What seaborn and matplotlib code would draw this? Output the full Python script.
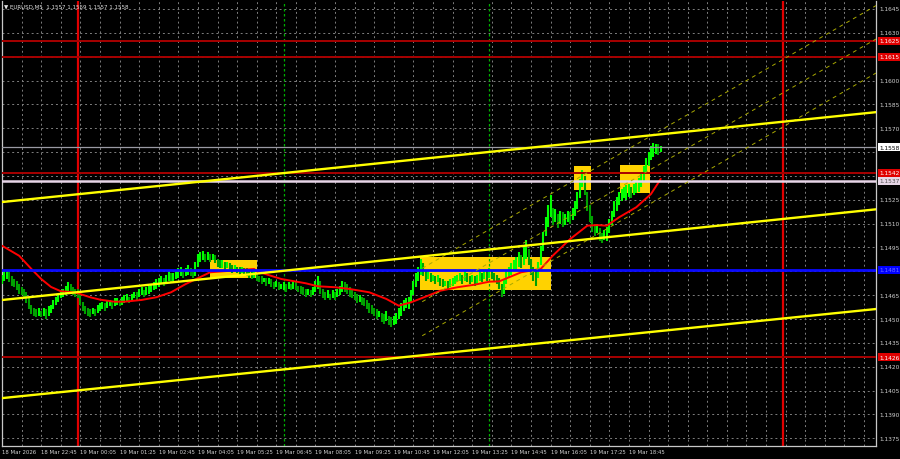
import matplotlib
matplotlib.use("Agg")
import matplotlib.pyplot as plt
import matplotlib.transforms as mtransforms
from matplotlib.patches import Rectangle
import numpy as np
import seaborn as sns

sns.set_theme(style="dark")
plt.rcParams["font.family"] = ["DejaVu Sans"]

# Barras M5 - indice 0 = 19 Mar 00:00, uma barra a cada 5 minutos
primeiro_idx = -31
barra_max = [
    1.1478, 1.1480, 1.1480, 1.1481, 1.1477, 1.1475, 1.1474, 1.1472, 1.1470, 1.1469,
    1.1467, 1.1463, 1.1459, 1.1457, 1.1456, 1.1457, 1.1455, 1.1457, 1.1456, 1.1458,
    1.1459, 1.1462, 1.1464, 1.1466, 1.1468, 1.1469, 1.1471, 1.1473, 1.1472, 1.1470,
    1.1469, 1.1469, 1.1466, 1.1461, 1.1458, 1.1457, 1.1456, 1.1457, 1.1456, 1.1459,
    1.1460, 1.1461, 1.1460, 1.1462, 1.1462, 1.1461, 1.1463, 1.1463, 1.1462, 1.1464,
    1.1465, 1.1466, 1.1464, 1.1466, 1.1467, 1.1467, 1.1469, 1.1470, 1.1468, 1.1470,
    1.1471, 1.1472, 1.1473, 1.1475, 1.1476, 1.1477, 1.1476, 1.1478, 1.1480, 1.1479,
    1.1479, 1.1480, 1.1482, 1.1483, 1.1481, 1.1482, 1.1484, 1.1482, 1.1481, 1.1486,
    1.1491, 1.1492, 1.1493, 1.1491, 1.1492, 1.1491, 1.1491, 1.1490, 1.1488, 1.1487,
    1.1487, 1.1486, 1.1486, 1.1485, 1.1484, 1.1484, 1.1483, 1.1483, 1.1483, 1.1482,
    1.1482, 1.1481, 1.1480, 1.1480, 1.1479, 1.1477, 1.1477, 1.1476, 1.1476, 1.1476,
    1.1475, 1.1473, 1.1474, 1.1473, 1.1472, 1.1473, 1.1472, 1.1473, 1.1472, 1.1474,
    1.1473, 1.1471, 1.1471, 1.1470, 1.1469, 1.1469, 1.1468, 1.1470, 1.1474, 1.1477,
    1.1474, 1.1469, 1.1467, 1.1468, 1.1466, 1.1468, 1.1467, 1.1469, 1.1471, 1.1474,
    1.1473, 1.1472, 1.1470, 1.1468, 1.1467, 1.1466, 1.1465, 1.1464, 1.1463, 1.1462,
    1.1460, 1.1459, 1.1457, 1.1456, 1.1455, 1.1454, 1.1453, 1.1455, 1.1452, 1.1451,
    1.1452, 1.1454, 1.1457, 1.1460, 1.1462, 1.1463, 1.1464, 1.1468, 1.1474, 1.1479,
    1.1483, 1.1488, 1.1485, 1.1481, 1.1480, 1.1479, 1.1478, 1.1477, 1.1478, 1.1476,
    1.1475, 1.1474, 1.1474, 1.1475, 1.1476, 1.1477, 1.1478, 1.1479, 1.1478, 1.1480,
    1.1479, 1.1477, 1.1478, 1.1477, 1.1478, 1.1480, 1.1479, 1.1481, 1.1480, 1.1482,
    1.1481, 1.1479, 1.1478, 1.1476, 1.1472, 1.1475, 1.1480, 1.1483, 1.1485, 1.1487,
    1.1489, 1.1492, 1.1490, 1.1496, 1.1500, 1.1494, 1.1488, 1.1483, 1.1480, 1.1486,
    1.1496, 1.1505, 1.1514, 1.1522, 1.1528, 1.1520, 1.1519, 1.1516, 1.1518, 1.1517,
    1.1516, 1.1518, 1.1517, 1.1520, 1.1524, 1.1530, 1.1538, 1.1544, 1.1540, 1.1530,
    1.1522, 1.1515, 1.1510, 1.1510, 1.1507, 1.1504, 1.1506, 1.1508, 1.1513, 1.1518,
    1.1524, 1.1527, 1.1530, 1.1532, 1.1533, 1.1534, 1.1535, 1.1533, 1.1535, 1.1537,
    1.1539, 1.1542, 1.1546, 1.1551, 1.1555, 1.1559, 1.1561, 1.1560, 1.1560, 1.1559,
]
barra_min = [
    1.1472, 1.1474, 1.1475, 1.1473, 1.1471, 1.1470, 1.1468, 1.1466, 1.1465, 1.1463,
    1.1460, 1.1456, 1.1453, 1.1452, 1.1451, 1.1452, 1.1451, 1.1452, 1.1450, 1.1452,
    1.1454, 1.1456, 1.1459, 1.1461, 1.1463, 1.1464, 1.1465, 1.1467, 1.1466, 1.1465,
    1.1464, 1.1463, 1.1459, 1.1455, 1.1453, 1.1452, 1.1451, 1.1453, 1.1452, 1.1454,
    1.1455, 1.1456, 1.1455, 1.1457, 1.1458, 1.1456, 1.1458, 1.1459, 1.1458, 1.1459,
    1.1460, 1.1461, 1.1460, 1.1462, 1.1463, 1.1462, 1.1464, 1.1465, 1.1464, 1.1465,
    1.1466, 1.1467, 1.1468, 1.1469, 1.1470, 1.1472, 1.1471, 1.1473, 1.1474, 1.1473,
    1.1474, 1.1475, 1.1476, 1.1477, 1.1476, 1.1477, 1.1478, 1.1477, 1.1476, 1.1477,
    1.1483, 1.1486, 1.1487, 1.1486, 1.1487, 1.1486, 1.1487, 1.1485, 1.1483, 1.1482,
    1.1482, 1.1481, 1.1482, 1.1480, 1.1479, 1.1480, 1.1479, 1.1478, 1.1479, 1.1478,
    1.1477, 1.1476, 1.1475, 1.1476, 1.1474, 1.1473, 1.1472, 1.1473, 1.1471, 1.1472,
    1.1470, 1.1469, 1.1470, 1.1468, 1.1469, 1.1468, 1.1467, 1.1469, 1.1468, 1.1469,
    1.1468, 1.1467, 1.1466, 1.1465, 1.1464, 1.1465, 1.1464, 1.1465, 1.1467, 1.1469,
    1.1466, 1.1463, 1.1462, 1.1463, 1.1462, 1.1463, 1.1462, 1.1464, 1.1465, 1.1467,
    1.1467, 1.1466, 1.1464, 1.1463, 1.1462, 1.1460, 1.1461, 1.1459, 1.1458, 1.1456,
    1.1454, 1.1453, 1.1452, 1.1450, 1.1451, 1.1448, 1.1447, 1.1449, 1.1446, 1.1445,
    1.1446, 1.1447, 1.1450, 1.1452, 1.1455, 1.1457, 1.1456, 1.1460, 1.1465, 1.1470,
    1.1474, 1.1478, 1.1477, 1.1474, 1.1475, 1.1473, 1.1474, 1.1472, 1.1473, 1.1471,
    1.1470, 1.1471, 1.1469, 1.1470, 1.1471, 1.1472, 1.1473, 1.1474, 1.1472, 1.1474,
    1.1473, 1.1472, 1.1473, 1.1471, 1.1472, 1.1474, 1.1473, 1.1475, 1.1474, 1.1476,
    1.1475, 1.1474, 1.1472, 1.1469, 1.1464, 1.1466, 1.1472, 1.1476, 1.1478, 1.1480,
    1.1481, 1.1483, 1.1482, 1.1484, 1.1488, 1.1484, 1.1478, 1.1474, 1.1471, 1.1476,
    1.1484, 1.1493, 1.1502, 1.1508, 1.1514, 1.1509, 1.1511, 1.1507, 1.1510, 1.1508,
    1.1509, 1.1511, 1.1510, 1.1512, 1.1515, 1.1519, 1.1526, 1.1533, 1.1528, 1.1518,
    1.1511, 1.1505, 1.1502, 1.1504, 1.1499, 1.1498, 1.1500, 1.1499, 1.1504, 1.1509,
    1.1514, 1.1518, 1.1522, 1.1524, 1.1526, 1.1525, 1.1527, 1.1526, 1.1528, 1.1529,
    1.1530, 1.1533, 1.1536, 1.1541, 1.1546, 1.1550, 1.1552, 1.1554, 1.1553, 1.1555,
]

# Media movel (vermelha)
ma_idx = [-31, -24, -19, -15, -11, -7, -3, 0, 5, 9, 15, 19, 26, 32, 38, 44, 54, 72,
          73, 83, 93, 98, 105, 111, 119, 126, 131, 136, 143, 148, 155, 162, 168, 172,
          181, 189, 194, 201, 208, 212, 216, 221, 228, 234, 238]
ma_val = [1.14961, 1.14898, 1.14815, 1.14752, 1.14702, 1.14675, 1.14670, 1.14662,
          1.14637, 1.14622, 1.14609, 1.14609, 1.14620, 1.14637, 1.14668, 1.14720,
          1.14794, 1.14815, 1.14800, 1.14752, 1.14725, 1.14706, 1.14700, 1.14689,
          1.14668, 1.14626, 1.14584, 1.14605, 1.14647, 1.14678, 1.14700, 1.14716,
          1.14735, 1.14737, 1.14794, 1.14815, 1.14900, 1.15003, 1.15087, 1.15091,
          1.15087, 1.15140, 1.15203, 1.15286, 1.15381]

# Niveis horizontais
niveis_vermelhos = [1.1625, 1.1615, 1.1542, 1.1426]
nivel_azul = 1.1481
nivel_bid = 1.1558
nivel_claro = 1.1537

# Retangulos amarelos (inicio, fim, preco min, preco max)
caixa_ini = [54, 139.5, 202.5, 221.5]
caixa_fim = [73.3, 193.3, 209.5, 233.5]
caixa_min = [1.14758, 1.14685, 1.15309, 1.15291]
caixa_max = [1.14871, 1.14888, 1.15464, 1.15469]

# Linhas de tendencia amarelas (solidas)
tend_x = [(-30.8, 325.9), (-30.8, 325.9), (-30.8, 325.9)]
tend_y = [(1.15236, 1.15801), (1.14620, 1.15190), (1.14003, 1.14563)]

# Canal tracejado
canal_x = (140.6, 325.9)
canal_y = [(1.14819, 1.16471), (1.14609, 1.16261), (1.14395, 1.16047)]

# Separadores verticais
sep_dia = [0, 288]
sep_verde = [84, 168]

# Eixo de tempo
rotulos_idx = [-31, -15, 1, 17, 33, 49, 65, 81, 97, 113, 129, 145, 161, 177, 193, 209, 225]
rotulos_txt = ["18 Mar 2026", "18 Mar 22:45", "19 Mar 00:05", "19 Mar 01:25",
               "19 Mar 02:45", "19 Mar 04:05", "19 Mar 05:25", "19 Mar 06:45",
               "19 Mar 08:05", "19 Mar 09:25", "19 Mar 10:45", "19 Mar 12:05",
               "19 Mar 13:25", "19 Mar 14:45", "19 Mar 16:05", "19 Mar 17:25",
               "19 Mar 18:45"]

# Eixo de precos
precos_grade = [1.1375, 1.1390, 1.1405, 1.1420, 1.1435, 1.1450, 1.1465, 1.1480,
                1.1495, 1.1510, 1.1525, 1.1540, 1.1555, 1.1570, 1.1585, 1.1600,
                1.1615, 1.1630, 1.1645]
precos_rotulo = [1.1375, 1.1390, 1.1405, 1.1420, 1.1435, 1.1450, 1.1465, 1.1495,
                 1.1510, 1.1525, 1.1570, 1.1585, 1.1600, 1.1630, 1.1645]

fig = plt.figure(figsize=(9, 4.6), dpi=100, facecolor="black")
ax = fig.add_axes([2 / 900, 13 / 460, 874 / 900, 445 / 460])
ax.set_facecolor("black")
ax.set_xlim(-30.8, 325.9)
ax.set_ylim(1.137016, 1.16500)

# grade pontilhada
ax.set_xticks(np.arange(-31, 326, 8))
ax.set_yticks(precos_grade)
ax.grid(True, color="#7e7e7e", linestyle=(0, (2, 3)), linewidth=0.7, zorder=0)
ax.tick_params(length=0, labelbottom=False, labelleft=False)
for lado in ["left", "bottom", "right"]:
    ax.spines[lado].set_color("#c8c8c8")
    ax.spines[lado].set_linewidth(0.9)
ax.spines["top"].set_visible(False)

# caixas amarelas
for x0, x1, p0, p1 in zip(caixa_ini, caixa_fim, caixa_min, caixa_max):
    ax.add_patch(Rectangle((x0, p0), x1 - x0, p1 - p0, facecolor="#ffd200",
                           edgecolor="none", zorder=1))

# barras
idx = np.arange(primeiro_idx, primeiro_idx + len(barra_max))
alta = np.array(barra_max)
baixa = np.array(barra_min)
meio = (alta + baixa) / 2
subiu = np.concatenate([[True], meio[1:] >= meio[:-1]])
cores = np.where(subiu, "#00ff00", "#00a000")
ax.vlines(idx, baixa, alta, colors=cores, linewidth=1.5, zorder=3)

# media movel
sns.lineplot(x=ma_idx, y=ma_val, ax=ax, color="#ff0000", linewidth=1.4, zorder=3.5)

# separadores verticais
for s in sep_dia:
    ax.axvline(s, color="#e00000", linewidth=1.6, zorder=2)
for s in sep_verde:
    ax.axvline(s, color="#00b000", linewidth=0.9, linestyle=(0, (2, 2)), zorder=2)

# niveis
for n in niveis_vermelhos:
    ax.axhline(n, color="#a80000", linewidth=1.4, zorder=4)
ax.axhline(nivel_azul, color="#0a0aff", linewidth=2.0, zorder=4)
ax.axhline(nivel_bid, color="#9a9aa4", linewidth=0.9, zorder=4)
ax.axhline(nivel_claro, color="#e8d6e8", linewidth=1.8, zorder=4)

# canal tracejado
for cy in canal_y:
    ax.plot(canal_x, cy, color="#a8a800", linewidth=0.7, linestyle=(0, (4, 4)), zorder=4)

# linhas de tendencia
for tx, ty in zip(tend_x, tend_y):
    ax.plot(tx, ty, color="#ffff00", linewidth=1.7, zorder=4.5)

# rotulos de preco a direita
trans_y = mtransforms.blended_transform_factory(ax.transAxes, ax.transData)
xr = 1 + 3 / 874
for p in precos_rotulo:
    ax.text(xr, p, f"{p:.4f}", transform=trans_y, fontsize=4.2, color="#d0d0d0",
            va="center", ha="left", clip_on=False)

caixas_rotulo = [
    (1.1625, "#e00000", "white"),
    (1.1615, "#e00000", "white"),
    (1.1558, "white", "black"),
    (1.1542, "#e00000", "white"),
    (1.1537, "#e6d6e6", "#505050"),
    (1.1481, "#0000ff", "#7070ff"),
    (1.1426, "#e00000", "white"),
]
for p, fundo, texto in caixas_rotulo:
    ax.text(xr, p, f"{p:.4f}", transform=trans_y, fontsize=4.2, color=texto,
            va="center", ha="left", clip_on=False,
            bbox=dict(boxstyle="square,pad=0.25", facecolor=fundo, edgecolor="none"))

# rotulos de tempo
trans_x = mtransforms.blended_transform_factory(ax.transData, ax.transAxes)
for i, t in zip(rotulos_idx, rotulos_txt):
    ax.text(i, -6 / 445, t, transform=trans_x, fontsize=3.9, color="#d0d0d0",
            va="center", ha="left", clip_on=False)

# titulo
fig.text(4 / 900, 1 - 7 / 460, "\u25bc EURUSD,M5  1.1557 1.1559 1.1557 1.1558",
         fontsize=4.0, color="#e0e0e0", va="center", ha="left")

fig.savefig("out.png", dpi=100, facecolor="black")
